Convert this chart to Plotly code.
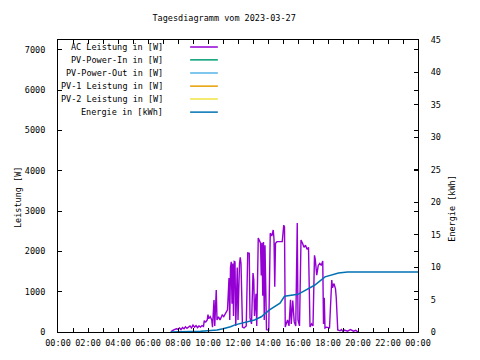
import plotly.graph_objects as go

# ---------------- data ----------------
hour_ticks = list(range(0, 25))
hour_labels = ["00:00", "", "02:00", "", "04:00", "", "06:00", "", "08:00", "",
               "10:00", "", "12:00", "", "14:00", "", "16:00", "", "18:00", "",
               "20:00", "", "22:00", "", "00:00"]

ac_hours = [7.55, 7.6, 7.75, 7.9, 8.0, 8.1, 8.2, 8.3, 8.4, 8.5, 8.6, 8.7, 8.8, 8.9,
            9.0, 9.1, 9.2, 9.3, 9.4, 9.5, 9.6, 9.7, 9.75, 9.85, 9.95, 10.0, 10.05,
            10.15, 10.25, 10.3, 10.4, 10.45, 10.55, 10.6, 10.7, 10.8, 10.95, 11.05,
            11.15, 11.3, 11.4, 11.45, 11.5, 11.55, 11.6, 11.65, 11.7, 11.75, 11.8,
            11.85, 11.95, 12.0, 12.1, 12.15, 12.2, 12.3, 12.4, 12.55, 12.65, 12.75,
            12.8, 12.9, 13.0, 13.05, 13.1, 13.2, 13.25, 13.35, 13.45, 13.5, 13.55,
            13.6, 13.65, 13.7, 13.75, 13.8, 13.9, 14.05, 14.15, 14.25, 14.35, 14.4,
            14.45, 14.5, 14.6, 14.8, 14.95, 15.05, 15.1, 15.15, 15.3, 15.4, 15.5,
            15.55, 15.65, 15.75, 15.85, 15.95, 16.0, 16.1, 16.2, 16.3, 16.4, 16.5,
            16.6, 16.7, 16.8, 16.9, 17.0, 17.1, 17.15, 17.25, 17.35, 17.45, 17.55,
            17.65, 17.7, 17.75, 17.8, 17.9, 18.1, 18.25, 18.3, 18.4, 18.5, 18.55,
            18.65, 18.8, 18.9, 19.0, 19.1, 19.3, 19.5, 19.7, 19.85, 20.0]
ac_watts = [0, 30, 60, 80, 70, 100, 60, 110, 80, 130, 90, 120, 150, 100,
            170, 120, 160, 110, 150, 120, 160, 140, 280, 250, 300, 430, 330,
            380, 300, 120, 790, 150, 1040, 300, 380, 300, 420, 380,
            440, 550, 1340, 300, 1600, 1740, 700, 1700, 400, 1750, 1740,
            150, 1600, 300, 1700, 1850, 1700, 120, 100, 150, 1960, 1950,
            350, 200, 1460, 1300, 400, 950, 150, 2330, 2250, 2200, 1400,
            2210, 900, 2230, 300, 2150, 60, 50, 2450, 2380, 2530, 2300,
            1120, 2200, 2240, 2230, 2240, 2650, 2600, 125, 300, 150, 800,
            200, 780, 250, 150, 2700, 300, 150, 2280, 2200, 2100, 2150,
            2050, 2100, 125, 200, 150, 1900, 1800, 1410, 1650, 1700, 1650,
            1760, 200, 850, 100, 120, 100, 1290, 1100, 1200, 1070, 850,
            50, 30, 60, 10, 50, 20, 60, 20, 40, 0]

energy_hours = [7.5, 8.8, 9.5, 10.0, 10.6, 11.0, 11.5, 11.8, 12.3, 12.8, 13.1, 13.55,
                14.1, 14.8, 15.1, 16.0, 16.5, 17.1, 17.8, 18.4, 18.7, 19.3, 24.0]
energy_kwh = [0, 0, 0.1, 0.2, 0.3, 0.5, 0.8, 1.1, 1.4, 1.6, 1.85, 2.35,
              3.4, 4.45, 5.5, 5.8, 6.45, 7.2, 8.5, 8.9, 9.1, 9.25, 9.25]

series_names = ["AC Leistung in [W]", "PV-Power-In in [W]", "PV-Power-Out in [W]",
                "PV-1 Leistung in [W]", "PV-2 Leistung in [W]", "Energie in [kWh]"]
series_colors = ["#9400d3", "#009e73", "#56b4e9", "#e69f00", "#f0e442", "#0072b2"]

# ---------------- figure ----------------
FONT = "DejaVu Sans Mono"
fig = go.Figure()

for i in (1, 2, 3, 4):
    fig.add_trace(go.Scatter(x=[], y=[], name=series_names[i], mode="lines",
                             line=dict(color=series_colors[i], width=1.5), showlegend=False))
fig.add_trace(go.Scatter(x=ac_hours, y=ac_watts, name=series_names[0], mode="lines",
                         line=dict(color=series_colors[0], width=1.4), showlegend=False))
fig.add_trace(go.Scatter(x=energy_hours, y=energy_kwh, name=series_names[5], mode="lines",
                         yaxis="y2", line=dict(color=series_colors[5], width=1.5),
                         showlegend=False))

# gnuplot-style key: right-aligned text, line sample after it
row_y = [0.976, 0.932, 0.887, 0.842, 0.798, 0.753]
annotations = []
shapes = []
for name, color, yy in zip(series_names, series_colors, row_y):
    annotations.append(dict(x=0.297, y=yy, xref="paper", yref="paper", text=name,
                            showarrow=False, xanchor="right", yanchor="middle",
                            font=dict(family=FONT, size=8.5, color="black")))
    shapes.append(dict(type="line", xref="paper", yref="paper", x0=0.367, x1=0.444,
                       y0=yy, y1=yy, line=dict(color=color, width=1.5)))

annotations.append(dict(x=-0.111, y=0.459, xref="paper", yref="paper", text="Leistung [W]",
                        showarrow=False, textangle=-90, xanchor="center", yanchor="middle",
                        font=dict(family=FONT, size=8.5, color="black")))
annotations.append(dict(x=1.094, y=0.425, xref="paper", yref="paper", text="Energie [kWh]",
                        showarrow=False, textangle=-90, xanchor="center", yanchor="middle",
                        font=dict(family=FONT, size=8.5, color="black")))

fig.update_layout(
    width=480, height=360,
    margin=dict(l=58, r=62, t=40, b=28, pad=0, autoexpand=False),
    paper_bgcolor="white", plot_bgcolor="white",
    font=dict(family=FONT, size=8.5, color="black"),
    title=dict(text="Tagesdiagramm vom 2023-03-27", x=0.467, xanchor="center",
               y=0.95, yanchor="middle", automargin=False,
               font=dict(family=FONT, size=8.5, color="black")),
    xaxis=dict(range=[0, 24], tickmode="array", tickvals=hour_ticks, ticktext=hour_labels,
               ticks="inside", ticklen=4, tickcolor="black", showline=True, linecolor="black",
               linewidth=1, mirror="ticks", showgrid=False, zeroline=False,
               ticklabelstandoff=3, automargin=False),
    yaxis=dict(range=[0, 7240], tickmode="array", tickvals=[0, 1000, 2000, 3000, 4000, 5000, 6000, 7000],
               ticks="inside", ticklen=4, tickcolor="black", showline=True, linecolor="black",
               linewidth=1, mirror="ticks", showgrid=False, zeroline=False,
               ticklabelstandoff=10, automargin=False),
    yaxis2=dict(range=[0, 45], tickmode="array", tickvals=[0, 5, 10, 15, 20, 25, 30, 35, 40, 45],
                overlaying="y", side="right", ticks="inside", ticklen=4, tickcolor="black",
                showline=True, linecolor="black", linewidth=1, showgrid=False, zeroline=False,
                ticklabelstandoff=10, automargin=False),
    annotations=annotations,
    shapes=shapes,
    showlegend=False,
)

fig.write_html("out.html", config={"displayModeBar": False},
               post_script="document.body.style.margin='0';")
